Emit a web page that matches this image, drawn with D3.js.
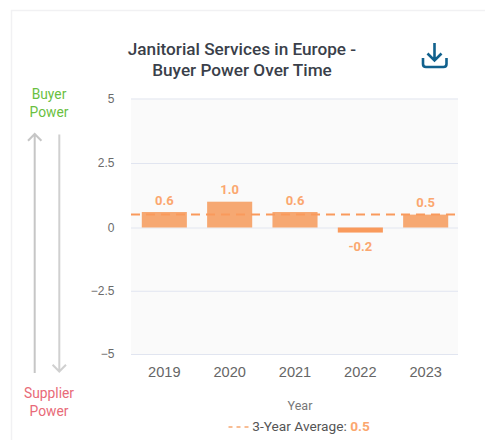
<!DOCTYPE html>
<html>
<head>
<meta charset="utf-8">
<script src="https://cdn.jsdelivr.net/npm/d3@7"></script>
<style>
html, body { margin: 0; padding: 0; background: #fff; }
svg { display: block; font-family: Roboto, sans-serif; }
</style>
</head>
<body>
<svg id="chart"></svg>
<script>
const years = ["2019", "2020", "2021", "2022", "2023"]
const values = [0.6, 1.0, 0.6, -0.2, 0.5]
const valueLabels = ["0.6", "1.0", "0.6", "-0.2", "0.5"]
const yTicks = [-5, -2.5, 0, 2.5, 5]
const average = 0.5
const titleLines = ["Janitorial Services in Europe -", "Buyer Power Over Time"]

const width = 485
const height = 440
const margin = {top: 98.5, right: 27, bottom: 86, left: 131}
const orange = "#f6a872"
const darkOrange = "#f99a5c"
const labelOrange = "#fba76f"

const svg = d3.select("#chart")
	.attr("width", width)
	.attr("height", height)
	.attr("viewBox", [0, 0, width, height])

// card edge
svg.append("path")
	.attr("d", `M11.5,${height} V10.5 H${width}`)
	.attr("fill", "none")
	.attr("stroke", "#f1f1f3")
	.attr("stroke-width", 1.5)

const x = d3.scaleBand()
	.domain(years)
	.range([margin.left, width - margin.right + 1])
	.paddingInner(0.31)
	.paddingOuter(0.165)

// the zero line sits a little under the middle of the plot in the reference
const y = d3.scaleLinear()
	.domain([-5, 0, 5])
	.range([height - margin.bottom, 227.5, margin.top])

svg.append("rect")
	.attr("x", margin.left)
	.attr("y", margin.top)
	.attr("width", width - margin.left - margin.right)
	.attr("height", height - margin.top - margin.bottom)
	.attr("fill", "#fafafa")

// grid and y labels
const yAxis = g => g
	.attr("transform", `translate(${margin.left},0)`)
	.call(d3.axisLeft(y).tickValues(yTicks).tickFormat(d => d3.format("")(d)).tickSize(-(width - margin.left - margin.right)).tickPadding(16.5))
	.call(g => g.select(".domain").remove())
	.call(g => g.selectAll(".tick line").attr("stroke", "#e1e5f0").attr("stroke-width", 1.2))
	.call(g => g.selectAll(".tick text").attr("fill", "#6b6b6b").attr("font-size", 12))

const xAxis = g => g
	.attr("transform", `translate(0,${height - margin.bottom})`)
	.call(d3.axisBottom(x).tickSize(0).tickPadding(13))
	.call(g => g.select(".domain").remove())
	.call(g => g.selectAll(".tick text").attr("fill", "#666").attr("font-size", 14.6))

svg.append("g").call(yAxis)
svg.append("g").call(xAxis)

svg.append("g")
	.selectAll("rect")
	.data(values)
	.join("rect")
	.attr("x", (d, i) => x(years[i]))
	.attr("y", d => y(Math.max(d, 0)))
	.attr("width", x.bandwidth())
	.attr("height", d => Math.abs(y(d) - y(0)))
	.attr("fill", d => d < 0 ? darkOrange : orange)

svg.append("g")
	.selectAll("text")
	.data(values)
	.join("text")
	.attr("x", (d, i) => x(years[i]) + x.bandwidth() / 2)
	.attr("y", d => d < 0 ? y(d) + 18 : y(d) - 7.5)
	.attr("text-anchor", "middle")
	.attr("font-size", 13)
	.attr("font-weight", 700)
	.attr("fill", labelOrange)
	.text((d, i) => valueLabels[i])

// 3-year average line
svg.append("line")
	.attr("x1", margin.left)
	.attr("x2", width - margin.right)
	.attr("y1", y(average))
	.attr("y2", y(average))
	.attr("stroke", darkOrange)
	.attr("stroke-width", 2)
	.attr("stroke-dasharray", "9 6")

// title
svg.append("text")
	.attr("text-anchor", "middle")
	.attr("font-size", 17.2)
	.attr("font-weight", 500)
	.attr("fill", "#3a3f4a")
	.selectAll("tspan")
	.data(titleLines)
	.join("tspan")
	.attr("x", 242)
	.attr("y", (d, i) => 55 + i * 20.5)
	.text(d => d)

// download icon
const icon = svg.append("g")
	.attr("fill", "none")
	.attr("stroke", "#11618d")
	.attr("stroke-width", 2.6)
icon.append("path").attr("d", "M434.5,43 V60 M427.5,53.5 L434.5,60.5 L441.5,53.5")
icon.append("path").attr("d", "M423,58 V64 Q423,67 426,67 H443.5 Q446.5,67 446.5,64 V58")

// buyer / supplier side labels
const sideFont = 13.8
svg.append("text").attr("x", 49).attr("y", 99.3).attr("text-anchor", "middle").attr("font-size", sideFont).attr("fill", "#6abf3f").text("Buyer")
svg.append("text").attr("x", 49).attr("y", 117.3).attr("text-anchor", "middle").attr("font-size", sideFont).attr("fill", "#6abf3f").text("Power")
svg.append("text").attr("x", 49).attr("y", 397.7).attr("text-anchor", "middle").attr("font-size", sideFont).attr("fill", "#e86a78").text("Supplier")
svg.append("text").attr("x", 49).attr("y", 415.7).attr("text-anchor", "middle").attr("font-size", sideFont).attr("fill", "#e86a78").text("Power")

const arrows = svg.append("g")
	.attr("fill", "none")
	.attr("stroke-width", 2)
arrows.append("path").attr("stroke", "#c6c6c6").attr("d", "M34.7,373 V134 M28,140.7 L34.7,134 L41.4,140.7")
arrows.append("path").attr("stroke", "#d0d0d0").attr("d", "M59.3,134.5 V371.5 M52.6,364.8 L59.3,371.5 L66,364.8")

// axis title and legend
svg.append("text")
	.attr("x", 300)
	.attr("y", 410)
	.attr("text-anchor", "middle")
	.attr("font-size", 12.5)
	.attr("fill", "#777")
	.text("Year")

svg.append("line")
	.attr("x1", 228.5)
	.attr("x2", 249)
	.attr("y1", 427)
	.attr("y2", 427)
	.attr("stroke", orange)
	.attr("stroke-width", 1.5)
	.attr("stroke-dasharray", "4 4")

const legend = svg.append("text")
	.attr("x", 252.3)
	.attr("y", 430.5)
	.attr("font-size", 13.7)
	.attr("fill", "#555")
legend.append("tspan").text("3-Year Average: ")
legend.append("tspan").attr("font-weight", 700).attr("fill", labelOrange).text(average.toFixed(1))
</script>
</body>
</html>
